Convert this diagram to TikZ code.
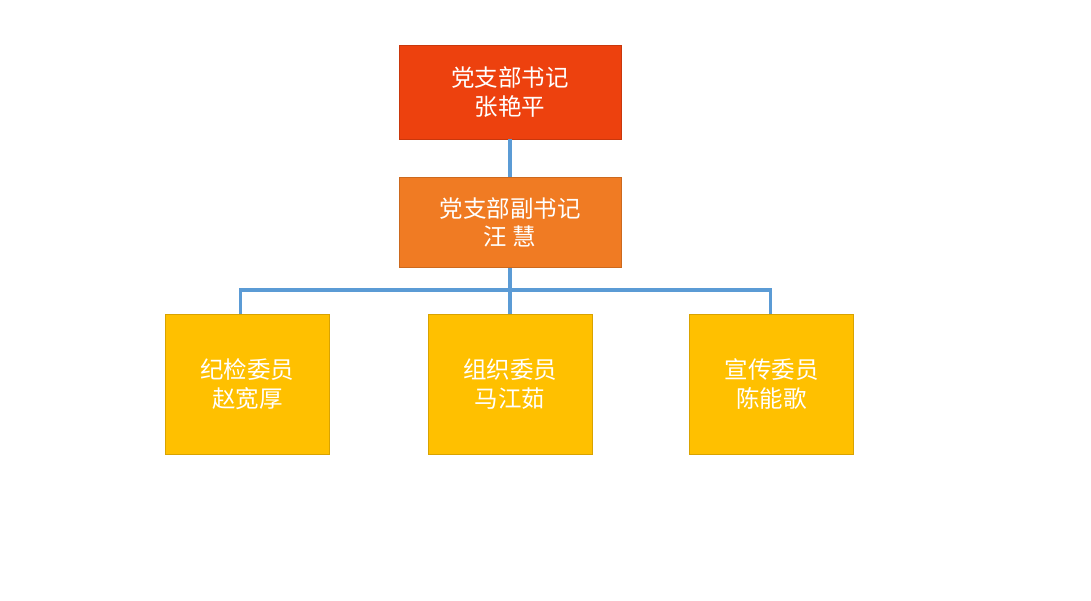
\documentclass[tikz,border=0pt]{standalone}
\usepackage{fontspec}
\usepackage{xcolor}
\usepackage{tikz}
\usetikzlibrary{positioning, calc}
\setmainfont{Noto Sans CJK SC}
\definecolor{secred}{RGB}{237,65,14}
\definecolor{deputyorange}{RGB}{240,123,35}
\definecolor{memberyellow}{RGB}{255,192,0}
\definecolor{linkblue}{RGB}{91,155,213}

\begin{document}
\begin{tikzpicture}[
  x=1pt, y=-1pt,
  post/.style={rectangle, minimum width=222pt, align=center,
    font=\fontsize{23.5}{28.5}\selectfont, text=white, inner sep=0pt,
    line width=0.6pt},
  secretary/.style={post, fill=secred, draw=secred!85!black,
    minimum height=94pt},
  deputy/.style={post, fill=deputyorange, draw=deputyorange!85!black,
    minimum height=90pt},
  member/.style={post, fill=memberyellow, draw=memberyellow!85!black,
    minimum width=164pt, minimum height=140pt},
  link/.style={draw=linkblue, line width=3.2pt},
]
  \useasboundingbox (0,0) rectangle (1091,600);

  % -- Leadership --
  \node[secretary] (sec) at (510,92) {党支部书记\\张艳平};
  \node[deputy, below=38pt of sec] (dep) {党支部副书记\\汪 慧};

  % -- Committee members --
  \node[member, below=46pt of dep] (org) {组织委员\\马江茹};
  \node[member, left=98pt of org] (disc) {纪检委员\\赵宽厚};
  \node[member, right=97pt of org] (prop) {宣传委员\\陈能歌};

  % -- Links --
  \coordinate (bus) at ($(dep.south)+(0,22)$);
  \draw[link] (sec) -- (dep);
  \draw[link] (dep.south) -- (org.north);
  \draw[link] ($(disc.north)+(-7,0)$) |- (bus) -| ($(prop.north)+(-1,0)$);
\end{tikzpicture}
\end{document}
